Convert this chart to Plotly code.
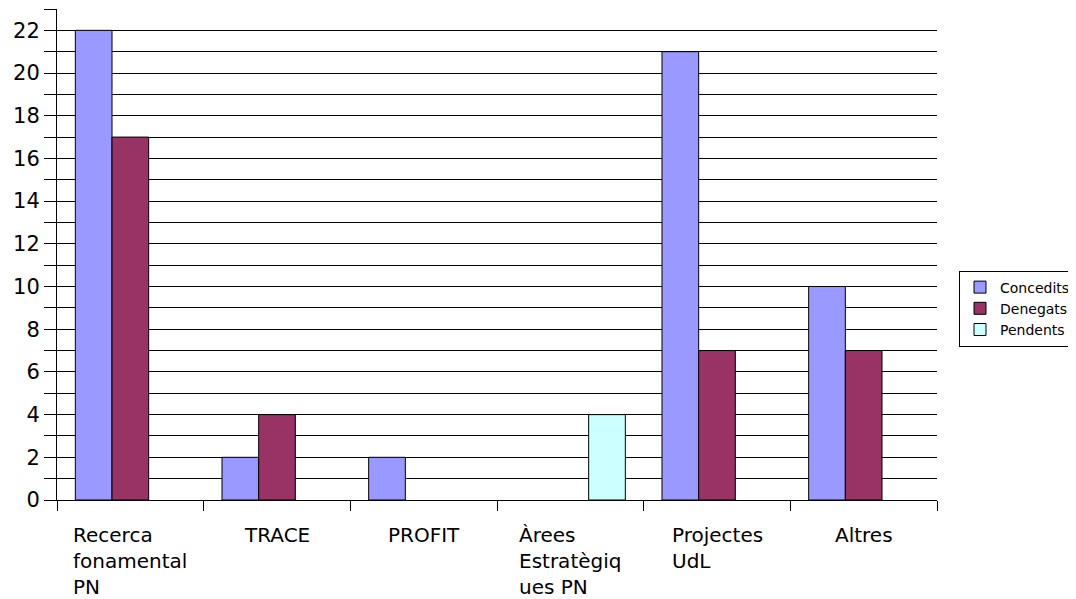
import plotly.graph_objects as go

categories = ["Recerca fonamental PN", "TRACE", "PROFIT", "Àrees Estratègiques PN", "Projectes UdL", "Altres"]
label_text = ["Recerca<br>fonamental<br>PN", "TRACE", "PROFIT", "Àrees<br>Estratègiq<br>ues PN", "Projectes<br>UdL", "Altres"]
concedits = [22, 2, 2, 0, 21, 10]
denegats = [17, 4, 0, 0, 7, 7]
pendents = [0, 0, 0, 4, 0, 0]

FONT = "DejaVu Sans"
fig = go.Figure()
for name, vals, col in [("Concedits", concedits, "#9999FF"),
                        ("Denegats", denegats, "#993366"),
                        ("Pendents", pendents, "#CCFFFF")]:
    fig.add_bar(x=categories, y=[v if v else None for v in vals], name=name,
                marker=dict(color=col, line=dict(color="black", width=1)))

yt = list(range(0, 24))
fig.update_layout(
    width=1076, height=599,
    margin=dict(l=49, r=147, t=1, b=107, autoexpand=False),
    paper_bgcolor="white", plot_bgcolor="white",
    barmode="group", bargap=0.25, bargroupgap=0,
    font=dict(family=FONT, color="black"),
    legend=dict(x=1.025, y=0.39, xanchor="left", yanchor="middle",
                bordercolor="black", borderwidth=1,
                font=dict(size=14, family=FONT), tracegroupgap=0),
    xaxis=dict(type="category", tickson="boundaries", showticklabels=False,
               ticks="outside", ticklen=10, tickcolor="black", automargin=False,
               showgrid=False, showline=True, linecolor="black", zeroline=False),
    yaxis=dict(range=[0, 23], tickvals=yt, automargin=False,
               ticktext=[str(v) if v % 2 == 0 else "" for v in yt],
               ticks="outside", ticklen=12, tickcolor="black",
               showgrid=True, gridcolor="black", gridwidth=1,
               showline=True, linecolor="black", zeroline=False,
               tickfont=dict(size=21, family=FONT)),
)
for c, t in zip(categories, label_text):
    fig.add_annotation(x=c, y=-0.043, xref="x", yref="paper", text=t,
                       showarrow=False, xanchor="center", yanchor="top",
                       align="left", font=dict(size=20, family=FONT))
fig.write_html("out.html")
